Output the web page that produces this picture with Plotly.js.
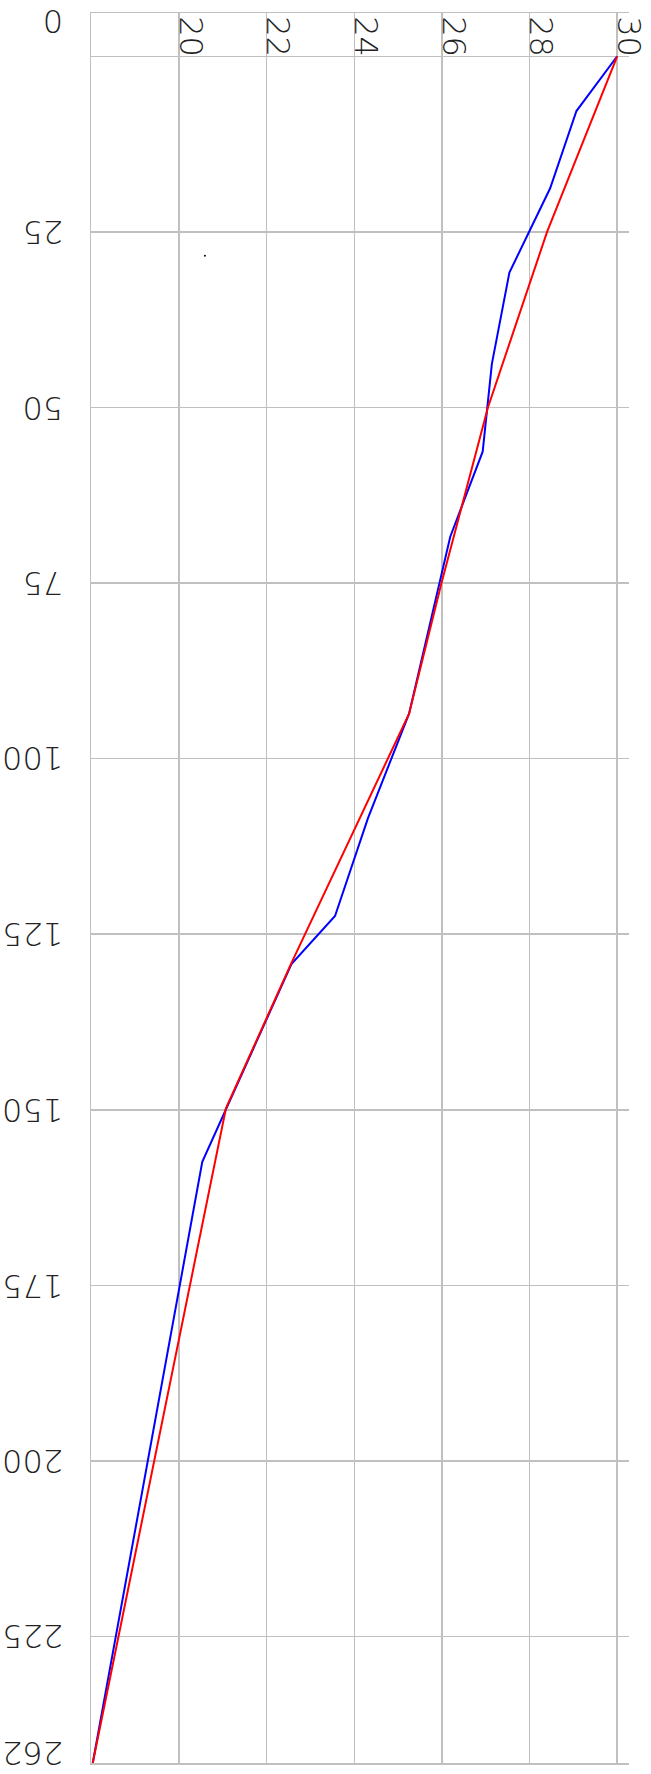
<!DOCTYPE html>
<html>
<head>
<meta charset="utf-8">
<script src="https://cdn.plot.ly/plotly-3.0.1.min.js"></script>
<style>
  html, body { margin: 0; padding: 0; background: #fff; }
  #chart { width: 651px; height: 1774px; }
</style>
</head>
<body>
<div id="chart"></div>
<script>
// Blue series (value, depth)
const blueX = [30, 29.07, 28.47, 27.54, 27.14, 26.93, 26.19, 25.25, 24.31, 23.56, 22.57, 21.07, 20.53, 18.03];
const blueY = [0, 7.8, 18.8, 30.8, 43.8, 56.3, 68.4, 93.6, 108.5, 122.4, 129.2, 149.8, 157.4, 243];
// Red series
const redX = [30, 28.40, 27.05, 25.99, 25.25, 22.55, 21.07, 18.03];
const redY = [0, 25, 50, 75, 93.6, 129.3, 149.8, 243];
// Stray point
const dotX = [20.59];
const dotY = [28.4];
// Tick labels
const xTickVals = [20, 22, 24, 26, 28, 30];
const xTickText = ["20", "22", "24", "26", "28", "30"];
const yGridVals = [0, 25, 50, 75, 100, 125, 150, 175, 200, 225];
const yLabelVals = [-5, 25, 50, 75, 100, 125, 150, 175, 200, 225, 241.6];
const yLabelText = ["0", "25", "50", "75", "100", "125", "150", "175", "200", "225", "262"];

const gridColor = "#c0c0c0";
const fontFamily = "'DejaVu Sans ExtraLight', 'DejaVu Sans', sans-serif";
const tickFont = { family: fontFamily, size: 32, color: "#222", weight: 200 };

const data = [
  { x: blueX, y: blueY, type: "scatter", mode: "lines", line: { color: "#0000ff", width: 2 }, hoverinfo: "none" },
  { x: redX, y: redY, type: "scatter", mode: "lines", line: { color: "#ff0000", width: 2 }, hoverinfo: "none" },
  { x: dotX, y: dotY, type: "scatter", mode: "markers", marker: { color: "#000", size: 2 }, hoverinfo: "none" }
];

const annotations = yLabelVals.map((v, i) => ({
  x: 0, xref: "paper", xanchor: "right", xshift: -27,
  y: v, yref: "y", yanchor: "middle",
  text: yLabelText[i], textangle: 180, showarrow: false,
  font: tickFont, borderpad: 0
}));

const layout = {
  width: 651, height: 1774,
  margin: { l: 91, r: 22, t: 13, b: 11 },
  paper_bgcolor: "#fff", plot_bgcolor: "#fff",
  showlegend: false,
  xaxis: {
    side: "top", range: [17.99, 30.27],
    tickvals: xTickVals, ticktext: xTickText,
    tickangle: 90, ticklabelposition: "inside", ticklabelshift: 11,
    ticklabelstandoff: -11, ticklabeloverflow: "allow",
    showgrid: true, gridcolor: gridColor, gridwidth: 1.5,
    showline: true, mirror: true, linecolor: gridColor, linewidth: 1.5,
    zeroline: false, ticks: "", tickfont: tickFont
  },
  yaxis: {
    range: [243, -6.16], autorange: false,
    tickvals: yGridVals, showticklabels: false,
    showgrid: true, gridcolor: gridColor, gridwidth: 1.5,
    showline: true, linecolor: gridColor, linewidth: 1.5,
    zeroline: false, ticks: ""
  },
  annotations: annotations
};

Plotly.newPlot("chart", data, layout, { staticPlot: true, displayModeBar: false });
</script>
</body>
</html>
